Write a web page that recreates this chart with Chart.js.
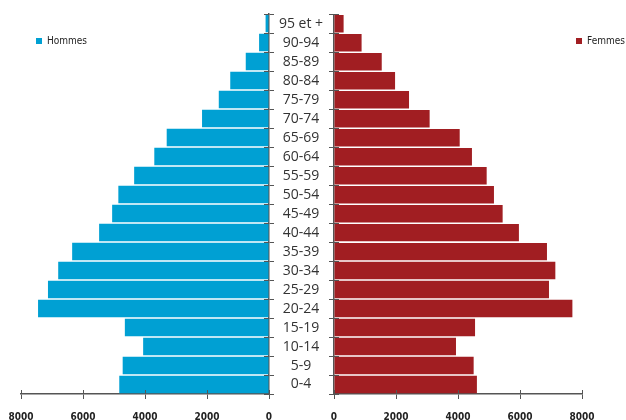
<!DOCTYPE html>
<html>
<head>
<meta charset="utf-8">
<script src="https://cdn.jsdelivr.net/npm/chart.js@4/dist/chart.umd.min.js"></script>
<style>
  body { margin: 0; background: #fff; }
  #wrap { position: relative; width: 626px; height: 420px; overflow: hidden; }
  canvas { position: absolute; top: 0; }
  #cLeft { left: 0; }
  #cRight { left: 270px; }
  .leg { position: absolute; font: 10px "DejaVu Sans Condensed", sans-serif; color: #222; line-height: 12px; white-space: nowrap; }
  .leg i { position: absolute; left: -11px; top: 3px; width: 6px; height: 6px; }
</style>
</head>
<body>
<div id="wrap">
  <canvas id="cLeft" width="280" height="420"></canvas>
  <canvas id="cRight" width="356" height="420"></canvas>
  <div class="leg" style="left:47px; top:35px;"><i style="background:#00a0d3"></i>Hommes</div>
  <div class="leg" style="left:587px; top:35px;"><i style="background:#a11e22"></i>Femmes</div>
</div>
<script>
// tranches d'âge, du haut vers le bas
const ageGroups = ['95 et +', '90-94', '85-89', '80-84', '75-79', '70-74', '65-69', '60-64', '55-59', '50-54',
                   '45-49', '40-44', '35-39', '30-34', '25-29', '20-24', '15-19', '10-14', '5-9', '0-4'];
const hommes = [110, 320, 750, 1250, 1620, 2160, 3300, 3700, 4350, 4860,
                5060, 5480, 6350, 6800, 7130, 7450, 4650, 4060, 4720, 4830];
const femmes = [310, 890, 1540, 1970, 2420, 3085, 4055, 4450, 4925, 5160,
                5440, 5965, 6870, 7140, 6935, 7690, 4550, 3935, 4505, 4610];
const xTicks = [0, 2000, 4000, 6000, 8000];

const axisColor = '#555';
const tickFont = { family: '"DejaVu Sans Condensed", sans-serif', size: 10, weight: 'bold' };
const labelFont = { family: '"Open Sans", sans-serif', size: 14 };

// largeur du plus long libellé, pour centrer les libellés entre les deux pyramides
const mctx = document.createElement('canvas').getContext('2d');
mctx.font = '14px "Open Sans", sans-serif';
const widest = Math.max(...ageGroups.map(l => mctx.measureText(l).width));

function xScale(reverse) {
    return {
        type: 'linear',
        reverse: reverse,
        min: 0,
        max: 8000,
        afterBuildTicks: s => { s.ticks = xTicks.map(v => ({ value: v })); },
        ticks: { font: tickFont, color: '#222', padding: 12, maxRotation: 0, callback: v => String(v) },
        grid: { drawOnChartArea: false, tickLength: 5, tickColor: axisColor, tickWidth: 1 },
        border: { color: axisColor, width: 1.5 },
        afterFit: s => { s.height = 26; }
    };
}

// petits traits qui traversent l'axe, côté intérieur
const crossTicks = {
    id: 'crossTicks',
    afterDraw(chart) {
        const { ctx, chartArea, scales } = chart;
        ctx.save();
        ctx.strokeStyle = axisColor;
        ctx.lineWidth = 1;
        const y = scales.y, x = scales.x;
        const edge = y.position === 'left' ? chartArea.left : chartArea.right;
        const dir = y.position === 'left' ? 1 : -1;
        for (let i = 0; i <= ageGroups.length; i++) {
            const py = Math.round(y.getPixelForTick(Math.min(i, ageGroups.length - 1)) +
                (i === ageGroups.length ? 0.5 : -0.5) * (y.height / ageGroups.length)) + 0.5;
            ctx.beginPath();
            ctx.moveTo(edge, py);
            ctx.lineTo(edge + dir * 5, py);
            ctx.stroke();
        }
        xTicks.forEach(v => {
            const px = Math.round(x.getPixelForValue(v)) + 0.5;
            ctx.beginPath();
            ctx.moveTo(px, chartArea.bottom);
            ctx.lineTo(px, chartArea.bottom - 4);
            ctx.stroke();
        });
        ctx.restore();
    }
};

Chart.defaults.animation = false;

new Chart(document.getElementById('cLeft'), {
    type: 'bar',
    data: {
        labels: ageGroups,
        datasets: [{
            label: 'Hommes',
            data: hommes,
            backgroundColor: '#00a0d3',
            barPercentage: 0.92,
            categoryPercentage: 1
        }]
    },
    options: {
        indexAxis: 'y',
        responsive: false,
        layout: { padding: { left: 21, right: 5, top: 14, bottom: 0 } },
        plugins: { legend: { display: false }, tooltip: { enabled: false } },
        scales: {
            x: xScale(true),
            y: {
                position: 'right',
                ticks: { display: false },
                grid: { drawOnChartArea: false, offset: true, tickLength: 5, tickColor: axisColor },
                border: { color: axisColor, width: 1.5 },
                afterFit: s => { s.width = 6; }
            }
        }
    },
    plugins: [crossTicks]
});

new Chart(document.getElementById('cRight'), {
    type: 'bar',
    data: {
        labels: ageGroups,
        datasets: [{
            label: 'Femmes',
            data: femmes,
            backgroundColor: '#a11e22',
            barPercentage: 0.92,
            categoryPercentage: 1
        }]
    },
    options: {
        indexAxis: 'y',
        responsive: false,
        layout: { padding: { left: 0, right: 44, top: 14, bottom: 0 } },
        plugins: { legend: { display: false }, tooltip: { enabled: false } },
        scales: {
            x: xScale(false),
            y: {
                position: 'left',
                ticks: {
                    font: labelFont,
                    color: '#333',
                    crossAlign: 'center',
                    padding: 28 - widest / 2,
                    autoSkip: false
                },
                grid: { drawOnChartArea: false, offset: true, tickLength: 5, tickColor: axisColor },
                border: { color: axisColor, width: 1.5 },
                afterFit: s => { s.width = 64; }
            }
        }
    },
    plugins: [crossTicks]
});
</script>
</body>
</html>
